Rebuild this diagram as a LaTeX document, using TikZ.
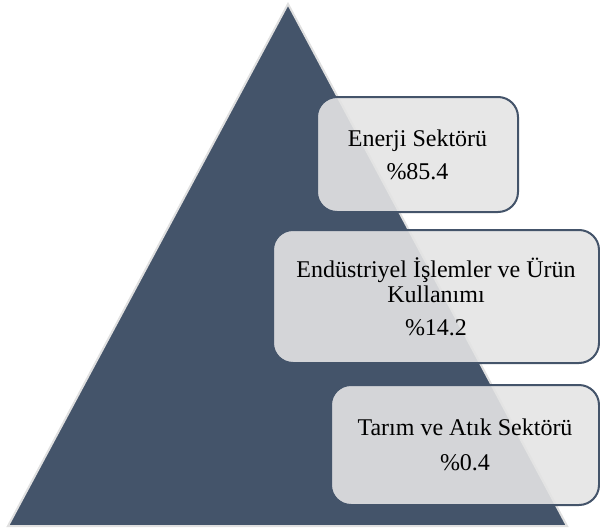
\documentclass[tikz,border=0pt]{standalone}
\usepackage{fontspec}
\setmainfont{Liberation Serif}
\definecolor{slate}{HTML}{44546A}
\definecolor{boxgray}{HTML}{E4E4E4}
\begin{document}
\begin{tikzpicture}[
    x=0.5pt,y=-0.5pt,
    every node/.style={font=\fontsize{12}{12.5}\selectfont},
    pyramid/.style={fill=slate, draw=black!12, line width=1pt, line join=miter},
    sector/.style={draw=slate, line width=1pt, rounded corners=10pt,
        fill=boxgray, fill opacity=0.9, text opacity=1, align=center,
        inner sep=0pt}
]
    \useasboundingbox (0,0) rectangle (600,530);
    \draw[pyramid] (288,4) -- (567,526) -- (8,526) -- cycle;

    \node[sector, minimum width=100.5pt, minimum height=57.5pt] (energy) at (417.5,154.5)
        {Enerji Sektörü\\[4pt]\%85.4};
    \node[sector, minimum width=163pt, minimum height=66.5pt] (industry) at (436,296.5)
        {Endüstriyel İşlemler ve Ürün\\Kullanımı\\[4pt]\%14.2};
    \node[sector, minimum width=134pt, minimum height=60pt] (farming) at (465,445)
        {Tarım ve Atık Sektörü\\[5pt]\%0.4};
\end{tikzpicture}
\end{document}
